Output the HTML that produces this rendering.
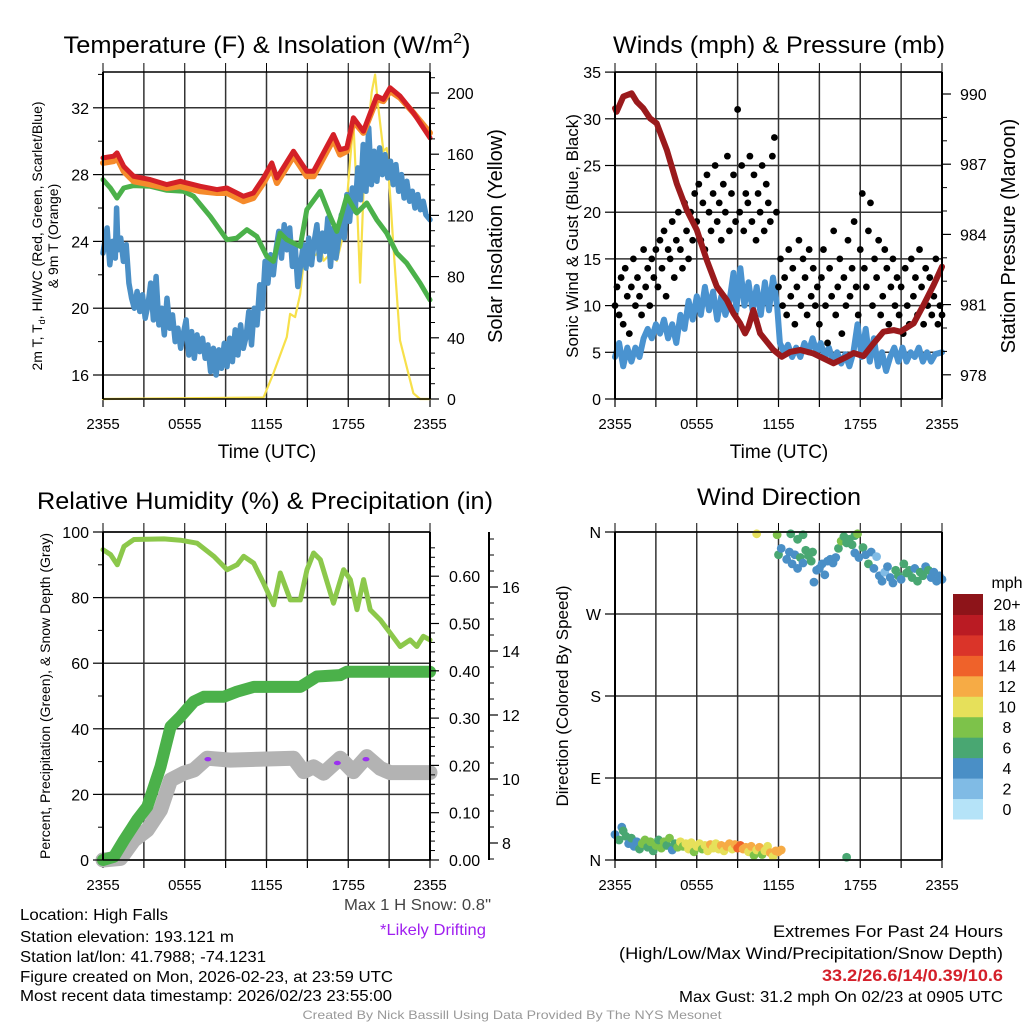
<!DOCTYPE html>
<html><head><meta charset="utf-8"><style>
html,body{margin:0;padding:0;background:#fff;}
svg{display:block;font-family:"Liberation Sans",sans-serif;}
</style></head><body>
<svg id="fig" width="1024" height="1024" viewBox="0 0 1024 1024">
<rect width="1024" height="1024" fill="#fff"/>
<g id="layer"></g>
</svg>
<script>
// ---------- DATA ----------
const redT = [0,0.78,1.03,1.52,2.25,3.47,4.69,5.67,7.14,8.36,9.09,10.31,11.04,11.78,12.39,12.76,13.98,14.96,15.45,16.91,17.4,17.89,18.38,19.11,20.09,20.58,21.07,21.8,22.78,24];
const redV = [29.0,29.1,29.3,28.5,27.9,27.7,27.4,27.6,27.3,27.1,27.2,26.7,26.9,27.8,28.7,27.8,29.4,28.2,28.2,30.4,29.5,29.6,31.4,30.6,32.7,32.5,33.2,32.7,31.7,30.2];
const orangeV = [28.7,28.8,29.0,28.2,27.6,27.4,27.2,27.3,27.0,26.9,26.9,26.4,26.6,27.5,28.4,27.5,29.1,27.9,27.9,30.1,29.2,29.4,31.2,30.5,32.5,32.4,33.0,32.6,31.7,30.5];
const greenT = [0,0.54,1.03,1.52,2.25,3.47,4.69,5.91,6.65,7.87,9.09,9.82,10.56,11.29,12.02,12.51,13.0,13.49,14.47,14.96,15.94,16.67,17.16,17.89,18.62,19.36,20.09,20.82,21.56,22.29,23.27,24];
const greenV = [27.7,27.2,26.6,27.2,27.34,27.3,27.06,27.0,26.7,25.5,24.1,24.2,24.7,24.3,23.1,22.8,24.5,24.1,23.7,25.9,27.0,25.5,24.6,26.7,25.7,26.3,25.3,24.5,23.3,22.7,21.5,20.5];
const blueT = [0,0.3,0.5,0.7,0.9,1.0,1.1,1.3,1.5,1.7,1.9,2.1,2.3,2.5,2.7,2.9,3.1,3.3,3.5,3.7,3.9,4.1,4.3,4.5,4.7,4.9,5.1,5.3,5.5,5.7,5.9,6.1,6.3,6.5,6.7,6.9,7.1,7.3,7.5,7.7,7.9,8.1,8.3,8.5,8.7,8.9,9.1,9.3,9.5,9.7,9.9,10.1,10.3,10.5,10.7,10.9,11.1,11.3,11.5,11.7,11.9,12.1,12.3,12.5,12.7,12.9,13.1,13.3,13.5,13.7,13.9,14.1,14.3,14.5,14.7,14.9,15.1,15.3,15.5,15.7,15.9,16.1,16.3,16.5,16.7,16.9,17.1,17.3,17.5,17.7,17.9,18.1,18.3,18.5,18.7,18.9,19.1,19.3,19.5,19.7,19.9,20.1,20.3,20.5,20.7,20.9,21.1,21.3,21.5,21.7,21.9,22.1,22.3,22.5,22.7,22.9,23.1,23.3,23.5,23.7,24];
const blueV = [23.3,24.8,22.6,24.0,23.0,26.0,23.5,24.2,22.8,23.8,21.5,20.6,20.0,21.0,19.8,20.8,19.4,20.2,21.5,19.3,21.9,19.0,20.0,18.4,20.6,18.8,19.6,18.0,18.8,17.6,18.5,19.3,17.2,18.6,17.0,18.4,17.4,18.2,17.0,17.8,16.2,17.6,16.0,17.5,16.4,17.9,16.5,18.2,16.8,18.7,17.2,19.0,17.6,18.3,19.8,17.8,20.0,19.0,21.4,20.0,22.8,21.5,23.2,22.0,23.5,24.6,23.0,25.0,23.5,24.8,22.5,23.8,21.3,22.6,23.8,22.4,24.2,22.6,24.0,25.0,22.9,24.5,23.4,25.4,22.5,24.8,23.0,24.2,25.6,24.2,26.8,25.2,27.2,25.8,28.4,26.5,29.8,27.0,30.8,27.4,29.4,27.6,29.6,28.0,29.2,27.8,28.8,27.4,28.6,27.0,28.0,26.6,27.6,26.4,27.0,26.0,26.8,25.9,26.4,25.6,25.3];
const solarT = [0,11.78,12.51,13.49,13.73,14.1,14.47,14.71,15.2,15.69,15.93,16.18,16.67,16.91,17.16,17.52,17.89,18.13,18.38,18.62,18.87,19.11,19.36,19.72,19.97,20.21,20.58,20.82,21.07,21.31,21.8,22.29,22.78,23.27,24];
const solarV = [0,1,16.7,40.5,55.6,53.5,68.6,88,92.4,94.6,101,90.3,94.6,99,90.3,103,129,155,181,133.5,76,133.5,166,200.6,212,190,162,164,133.5,101,38.3,21,3.7,0,0];
const tempTicks = [16,20,24,28,32];
const solarTicks = [0,40,80,120,160,200];
const timeLabels = ["2355","0555","1155","1755","2355"];

const presT = [0,0.12,0.61,1.22,1.59,2.08,2.57,3.06,3.43,3.8,4.53,5.27,6.0,6.73,7.47,8.2,8.69,9.18,9.55,9.8,10.16,10.65,11.63,12.24,12.86,13.59,14.57,16.04,17.02,17.51,18.24,18.98,19.71,20.45,20.94,21.92,22.65,23.39,24];
const presV = [989.39,989.24,989.89,990.03,989.67,989.39,988.96,988.75,988.18,987.61,986.18,985.04,984.19,982.91,981.77,981.2,980.63,980.2,979.77,980.06,980.77,979.77,979.06,978.77,978.98,979.06,978.91,978.49,978.77,978.93,978.8,979.34,979.84,979.91,979.84,980.2,980.99,981.84,982.62];
const windT = [0,0.3,0.6,0.9,1.2,1.5,1.8,2.1,2.4,2.7,3.0,3.3,3.6,3.9,4.2,4.5,4.8,5.1,5.4,5.7,6.0,6.3,6.6,6.9,7.2,7.5,7.8,8.1,8.4,8.7,8.9,9.2,9.5,9.8,10.1,10.4,10.7,11.0,11.3,11.6,11.9,12.1,12.4,12.7,13.0,13.3,13.6,13.9,14.2,14.5,14.8,15.1,15.4,15.7,16.0,16.3,16.6,16.9,17.2,17.5,17.8,18.1,18.4,18.7,19.0,19.3,19.6,19.9,20.2,20.5,20.8,21.1,21.4,21.7,22.0,22.3,22.6,22.9,23.2,23.5,24];
const windV = [4.5,6.0,3.5,5.5,4.0,5.5,4.5,6.5,7.5,6.5,8.0,7.0,8.5,6.5,8.0,6.0,9.0,7.5,10.5,8.5,11.0,9.0,12.0,9.5,11.5,8.5,11.0,9.0,10.5,13.5,9.5,14.0,10.0,12.5,9.5,12.0,9.0,12.5,9.5,13.0,10.0,6.0,5.0,5.8,4.5,5.5,4.5,6.0,5.0,6.5,5.0,6.0,4.5,5.5,4.0,5.0,3.8,4.8,3.5,5.0,8.0,4.5,7.5,4.0,6.5,3.5,5.0,3.0,4.5,5.5,4.0,5.5,4.0,5.0,4.5,5.5,4.0,5.0,4.0,4.8,5.0];
const gustV = [10,12,9,13,8,14,11,7,12,15,10,13,11,9,16,12,14,10,15,13,
16,12,17,14,18,11,16,15,19,13,17,20,16,14,21,18,15,20,17,22,
19,23,17,21,16,24,20,18,22,25,19,21,17,23,20,26,18,22,24,19,
31,20,25,18,22,21,26,19,24,17,22,20,25,18,23,21,19,26,28,20,
12,15,10,13,9,16,11,14,8,12,17,10,15,13,9,16,11,14,10,12,
8,13,16,10,6,14,11,18,9,12,15,7,13,10,17,11,14,19,12,9,
16,22,14,12,18,21,10,15,13,17,9,11,16,14,8,12,15,10,13,9,
12,7,14,10,8,15,11,13,9,16,12,8,14,10,13,9,11,15,8,10,9];
const windTicks = [0,5,10,15,20,25,30,35];
const presTicks = [978,981,984,987,990];

const rhT = [0,0.56,1.05,1.54,2.27,4.47,5.69,6.91,8.13,9.11,9.84,10.33,11.06,11.79,12.52,13.01,13.75,14.48,14.97,15.46,15.95,16.92,17.66,18.15,18.64,19.13,19.61,20.35,21.08,21.81,22.54,23.03,23.51,24];
const rhV = [94.6,93.1,90.0,95.6,97.7,97.9,97.5,96.6,92.6,88.5,90.0,92.6,90.5,84.4,77.8,87.5,79.3,79.3,88.5,93.6,91.6,78.3,88.5,85.5,76.3,85.5,76.3,73.2,69.2,65.1,67.1,65.1,68.2,67.1];
const precipT = [0,0.81,1.54,2.51,3.25,4.22,4.96,5.69,6.67,7.4,8.86,9.84,11.06,14.48,15.7,17.41,17.9,24];
const precipV = [0,0.007,0.042,0.085,0.113,0.197,0.282,0.303,0.335,0.345,0.345,0.356,0.366,0.366,0.388,0.391,0.398,0.398];
const snowT = [0,1.29,2.27,3.25,4.22,4.96,5.93,6.67,7.64,9.35,13.99,14.72,15.46,16.19,17.41,18.38,19.36,20.35,21.08,24];
const snowV = [7.47,7.52,8.09,8.41,9.03,9.97,10.18,10.28,10.65,10.59,10.65,10.23,10.38,10.18,10.65,10.23,10.7,10.33,10.2,10.2];
const driftT = [7.7,17.2,19.3];
const driftV = [10.62,10.5,10.62];
const rhTicks = [0,20,40,60,80,100];
const precipTicks = [0,0.1,0.2,0.3,0.4,0.5,0.6];
const snowTicks = [8,10,12,14,16];

const dirT = [0,0.3,0.5,0.6,0.8,1.0,1.2,1.4,1.6,1.8,2.0,2.2,2.4,2.6,2.8,3.0,3.2,3.4,3.6,3.8,4.0,4.2,4.4,4.6,4.8,5.0,5.2,5.4,5.6,5.8,6.0,6.2,6.4,6.6,6.8,7.0,7.2,7.4,7.6,7.8,8.0,8.2,8.4,8.6,8.8,9.0,9.2,9.4,9.6,9.8,10.0,10.2,10.4,10.6,10.8,11.0,11.2,11.4,11.6,11.8,12.0,12.2,17.0,
10.4,11.9,12.9,13.4,13.8,12.0,12.2,12.6,12.8,13.0,13.2,13.4,13.6,13.8,14.0,14.2,14.4,14.5,14.8,14.6,15.0,15.2,15.4,15.6,15.8,16.0,16.2,16.4,16.6,16.8,17.0,17.2,17.4,17.6,17.8,17.6,17.9,18.2,18.4,18.6,18.8,19.0,19.2,19.4,19.6,19.8,20.0,20.2,20.4,20.6,20.8,21.0,21.2,21.4,21.6,21.8,22.0,22.2,22.4,22.6,22.8,23.0,23.2,23.4,23.6,23.8,24.0];
const dirV = [28,22,36,32,26,18,24,15,20,12,18,22,14,20,10,16,22,13,20,16,24,11,18,14,20,15,18,12,19,9,15,18,12,16,10,17,13,18,12,16,10,15,18,12,17,13,16,12,14,9,15,5,11,14,6,10,15,8,4,10,9,11,3,
358,357,358,352,357,335,342,330,338,325,335,320,332,326,340,334,328,338,318,305,320,325,313,328,330,326,332,342,350,355,348,352,346,356,358,337,332,343,335,325,338,320,333,312,306,316,322,310,304,318,312,308,325,315,318,310,320,306,316,312,322,318,310,316,306,312,308];
const dirSpd = [5,6,4,6,7,4,6,5,4,6,8,8,7,8,6,8,7,8,9,6,8,5,7,8,10,9,11,10,10,8,10,11,9,10,10,12,11,10,11,12,10,12,13,11,12,14,15,13,12,11,12,8,10,12,9,11,10,12,10,12,12,12,7,
10,8,6,6,6,6,4,4,4,4,5,4,6,4,6,6,6,6,4,4,4,4,4,4,4,4,5,6,8,6,6,6,6,7,8,4,4,6,4,6,4,4,2,5,4,2,4,4,4,6,6,4,6,6,6,6,4,6,6,6,4,6,4,4,4,4,4];
const dirTicks = [0,90,180,270,360];
const dirLabels = ["N","E","S","W","N"];
const spdLabels = ["0","2","4","6","8","10","12","14","16","18","20+"];
const spdColors = ["#b5e3f8","#80bbe5","#4a8fc6","#49a772","#7dc24a","#e6e05a","#f6ab45","#ef622a","#da3429","#ba1b23","#8d1419"];

// ---------- DRAW ----------
const NS = "http://www.w3.org/2000/svg";
const layer = document.getElementById('layer');
function mk(tag, attrs, parent){ const e=document.createElementNS(NS,tag); for(const k in attrs) e.setAttribute(k,attrs[k]); (parent||layer).appendChild(e); return e; }
function txt(str, x, y, size, anchor, extra, parent){ const t=mk('text',Object.assign({x:x,y:y,'font-size':size,'text-anchor':anchor||'start',fill:'#000'},extra||{}),parent); t.textContent=str; return t; }

const P1={x0:103,x1:430,y0:72,y1:399}, P2={x0:615,x1:942,y0:72,y1:399}, P3={x0:103,x1:430,y0:532,y1:860}, P4={x0:615,x1:942,y0:532,y1:860};
function xs(P,t){ return P.x0 + t/24*(P.x1-P.x0); }
const yTemp = v => 375-(v-16)*16.7;
const ySolar = v => 399-v*1.53;
const yWind = v => 399-v*9.34;
const yPres = v => 94+(990-v)*23.4;
const yRH = v => 860-v*3.28;
const yPrecip = v => 860-v*473;
const ySnow = v => 843-(v-8)*32;
const yDir = v => 860-v/360*328;

function frame(P, name, hTicksY){
  const g=mk('g',{});
  
  
  for(let i=0;i<=8;i++){ const x=xs(P,i*3); mk('line',{x1:x,x2:x,y1:P.y0,y2:P.y1,stroke:'#333','stroke-width':1.5},g); mk('line',{x1:x,x2:x,y1:P.y0-9,y2:P.y0,stroke:'#000','stroke-width':1},g); mk('line',{x1:x,x2:x,y1:P.y1,y2:P.y1+8,stroke:'#000','stroke-width':1.2},g); }
  hTicksY.forEach(y=>{ mk('line',{x1:P.x0,x2:P.x1,y1:y,y2:y,stroke:'#333','stroke-width':1.5},g); });
  return g;
}
function spines(P,name){
  const g=mk('g',{});
  
  
  mk('line',{x1:P.x0,x2:P.x0,y1:P.y0,y2:P.y1,stroke:'#000','stroke-width':2},g);
  mk('line',{x1:P.x1,x2:P.x1,y1:P.y0,y2:P.y1,stroke:'#000','stroke-width':2},g);
  mk('line',{x1:P.x0,x2:P.x1,y1:P.y0,y2:P.y0,stroke:'#000','stroke-width':1.5},g);
  mk('line',{x1:P.x0,x2:P.x1,y1:P.y1,y2:P.y1,stroke:'#000','stroke-width':1.5},g);
  timeLabels.forEach((l,i)=>{ const t=txt(l,xs(P,i*6),P.y1+30,15,'middle',{},g);   });
}
function series(T,V,P,yf,color,w,name,cap){
  const pts=T.map((t,i)=>xs(P,t).toFixed(1)+','+yf(V[i]).toFixed(1)).join(' ');
  const e=mk('polyline',{points:pts,fill:'none',stroke:color,'stroke-width':w,'stroke-linejoin':'round','stroke-linecap':cap||'round'});
  
  
  return e;
}
function leftTicks(P,vals,yf,labels,minorStep,minorF){
  vals.forEach((v,i)=>{ const y=yf(v); mk('line',{x1:P.x0-10,x2:P.x0,y1:y,y2:y,stroke:'#000','stroke-width':1.2}); const t=txt(labels?labels[i]:String(v),P.x0-14,y+6,16,'end');   });
  if(minorF) minorF.forEach(v=>{ const y=yf(v); mk('line',{x1:P.x0-5,x2:P.x0,y1:y,y2:y,stroke:'#000','stroke-width':1}); });
}

// ===== Panel 1 =====
frame(P1,'temperature',tempTicks.map(yTemp));
series(solarT,solarV,P1,ySolar,'#f7e04a',2.2,'solar-insolation-line');
series(blueT,blueV,P1,yTemp,'#4a8fc6',5.5,'wind-chill-line');
series(greenT,greenV,P1,yTemp,'#4bb14a',5,'dewpoint-line');
series(redT,orangeV,P1,yTemp,'#f58a2b',6,'9m-temperature-line');
series(redT,redV,P1,yTemp,'#d42027',5,'2m-temperature-line');
spines(P1,'temperature');
leftTicks(P1,tempTicks,yTemp,null,null,[18,22,26,30,34]);
solarTicks.forEach(v=>{ const y=ySolar(v); mk('line',{x1:P1.x1,x2:P1.x1+9,y1:y,y2:y,stroke:'#000','stroke-width':1.2}); const t=txt(String(v),P1.x1+17,y+6,16,'start');   });
for(let v=10;v<=210;v+=10){ if(v%40){ const y=ySolar(v); mk('line',{x1:P1.x1,x2:P1.x1+5,y1:y,y2:y,stroke:'#000','stroke-width':1}); } }
{ const t=txt('',267,53,24,'middle',{textLength:407,lengthAdjust:'spacingAndGlyphs'}); t.innerHTML='Temperature (F) &amp; Insolation (W/m<tspan font-size="15" dy="-10">2</tspan><tspan dy="10">)</tspan>';   }
{ const t=txt('Time (UTC)',267,458,19,'middle');   }
{ const g=mk('g',{transform:'translate(42,236) rotate(-90)'});  
  const a=txt('',0,0,14,'middle',{},g); a.innerHTML='2m T, T<tspan font-size="9" dy="3">d</tspan><tspan dy="-3">, HI/WC (Red, Green, Scarlet/Blue)</tspan>';
  txt('& 9m T (Orange)',0,16,14,'middle',{},g); }
{ const t=txt('Solar Insolation (Yellow)',0,0,20,'middle',{transform:'translate(502,236) rotate(-90)'});   }

// ===== Panel 2 =====
frame(P2,'winds',windTicks.map(yWind));
series(windT,windV,P2,yWind,'#4a93d0',6,'sonic-wind-line');
gustV.forEach((v,i)=>{ const c=mk('circle',{cx:xs(P2,i*24/(gustV.length-1)),cy:yWind(v),r:3.4,fill:'#000'});
  
   });
series(presT,presV,P2,yPres,'#9a1a1c',6,'station-pressure-line');
spines(P2,'winds');
leftTicks(P2,windTicks,yWind);
presTicks.forEach(v=>{ const y=yPres(v); mk('line',{x1:P2.x1,x2:P2.x1+9,y1:y,y2:y,stroke:'#000','stroke-width':1.2}); const t=txt(String(v),P2.x1+18,y+6,16,'start');   });
[979,980,982,983,985,986,988,989].forEach(v=>{ const y=yPres(v); mk('line',{x1:P2.x1,x2:P2.x1+5,y1:y,y2:y,stroke:'#000','stroke-width':1}); });
{ const t=txt('Winds (mph) & Pressure (mb)',779,53,24,'middle',{textLength:332,lengthAdjust:'spacingAndGlyphs'});   }
{ const t=txt('Time (UTC)',779,458,19,'middle');   }
{ const t=txt('Sonic Wind & Gust (Blue, Black)',0,0,17,'middle',{transform:'translate(578,236) rotate(-90)'});   }
{ const t=txt('Station Pressure (Maroon)',0,0,20,'middle',{transform:'translate(1015,236) rotate(-90)'});   }

// ===== Panel 3 =====
frame(P3,'humidity',rhTicks.map(yRH));
series(rhT,rhV,P3,yRH,'#8cc84b',5,'relative-humidity-line');
series(snowT,snowV,P3,ySnow,'#b3b3b3',15,'snow-depth-line');
series(precipT,precipV,P3,yPrecip,'#4bb14a',12,'precipitation-line');
driftT.forEach((t,i)=>{ const e=mk('ellipse',{cx:xs(P3,t),cy:ySnow(driftV[i]),rx:3.5,ry:2.2,fill:'#9b30f0'});
  
   });
spines(P3,'humidity');
leftTicks(P3,rhTicks,yRH,null,null,[10,30,50,70,90]);
precipTicks.forEach(v=>{ const y=yPrecip(v); mk('line',{x1:P3.x1,x2:P3.x1+9,y1:y,y2:y,stroke:'#000','stroke-width':1.2}); const t=txt(v.toFixed(2),P3.x1+19,y+6,16,'start');   });
for(let k=1;k<=33;k++){ const v=k*0.02; if(k%5){ const y=yPrecip(v); if(y>=P3.y0) mk('line',{x1:P3.x1,x2:P3.x1+5,y1:y,y2:y,stroke:'#000','stroke-width':1}); } }
{ const ax=mk('line',{x1:489,x2:489,y1:532,y2:860,stroke:'#000','stroke-width':2});   }
snowTicks.forEach(v=>{ const y=ySnow(v); mk('line',{x1:489,x2:498,y1:y,y2:y,stroke:'#000','stroke-width':1.2}); const t=txt(String(v),502,y+6,16,'start');   });
for(let k=0;k<30;k++){ const v=7.5+k*0.5; if(v%2){ const y=ySnow(v); if(y>=532&&y<=860) mk('line',{x1:489,x2:494,y1:y,y2:y,stroke:'#000','stroke-width':1}); } }
{ const t=txt('Relative Humidity (%) & Precipitation (in)',265,509,24,'middle',{textLength:456,lengthAdjust:'spacingAndGlyphs'});   }
{ const t=txt('Percent, Precipitation (Green), & Snow Depth (Gray)',0,0,14,'middle',{transform:'translate(50,696) rotate(-90)'});   }

// ===== Panel 4 =====
frame(P4,'wind-direction',dirTicks.map(yDir));
dirV.forEach((v,i)=>{ const c=mk('circle',{cx:xs(P4,dirT[i]),cy:yDir(v),r:4.4,fill:spdColors[Math.min(10,Math.floor(dirSpd[i]/2))]});
  
   });
spines(P4,'wind-direction');
leftTicks(P4,dirTicks,yDir,dirLabels);
{ const t=txt('Wind Direction',779,505,24,'middle',{textLength:164,lengthAdjust:'spacingAndGlyphs'});   }
{ const t=txt('Direction (Colored By Speed)',0,0,17,'middle',{transform:'translate(568,696) rotate(-90)'});   }
{ const g=mk('g',{});  
  const h=(819-594)/11;
  spdColors.forEach((c,i)=>{ const y=819-(i+1)*h; const r=mk('rect',{x:953,y:y,width:30,height:h+0.5,fill:c},g);
    
    
    const t=txt(spdLabels[i],1007,y+h/2+6,16,'middle',{},g);
    
     });
  txt('mph',1007,588,16,'middle',{},g); }

// ===== Footer text =====
const L=[['Location: High Falls',920,148],['Station elevation: 193.121 m',942,214],['Station lat/lon: 41.7988; -74.1231',962,246],['Figure created on Mon, 2026-02-23, at 23:59 UTC',982,373],['Most recent data timestamp: 2026/02/23 23:55:00',1001,372]];
L.forEach(a=>{ const t=txt(a[0],20,a[1],16,'start',{textLength:a[2],lengthAdjust:'spacingAndGlyphs'});   });
{ const t=txt('Max 1 H Snow: 0.8"',491,910,16,'end',{fill:'#444',textLength:147,lengthAdjust:'spacingAndGlyphs'});   }
{ const t=txt('*Likely Drifting',433,935,16,'middle',{fill:'#a020f0',textLength:106,lengthAdjust:'spacingAndGlyphs'});   }
{ const t=txt('Extremes For Past 24 Hours',1003,937,17,'end',{textLength:230,lengthAdjust:'spacingAndGlyphs'});   }
{ const t=txt('(High/Low/Max Wind/Precipitation/Snow Depth)',1003,959,17,'end',{textLength:384,lengthAdjust:'spacingAndGlyphs'});   }
{ const t=txt('33.2/26.6/14/0.39/10.6',1003,981,17,'end',{fill:'#d4202a','font-weight':'bold',textLength:181,lengthAdjust:'spacingAndGlyphs'});   }
{ const t=txt('Max Gust: 31.2 mph On 02/23 at 0905 UTC',1003,1002,16,'end',{textLength:324,lengthAdjust:'spacingAndGlyphs'});   }
{ const t=txt('Created By Nick Bassill Using Data Provided By The NYS Mesonet',512,1019,12,'middle',{fill:'#999',textLength:419,lengthAdjust:'spacingAndGlyphs'});   }
</script>
</body></html>
